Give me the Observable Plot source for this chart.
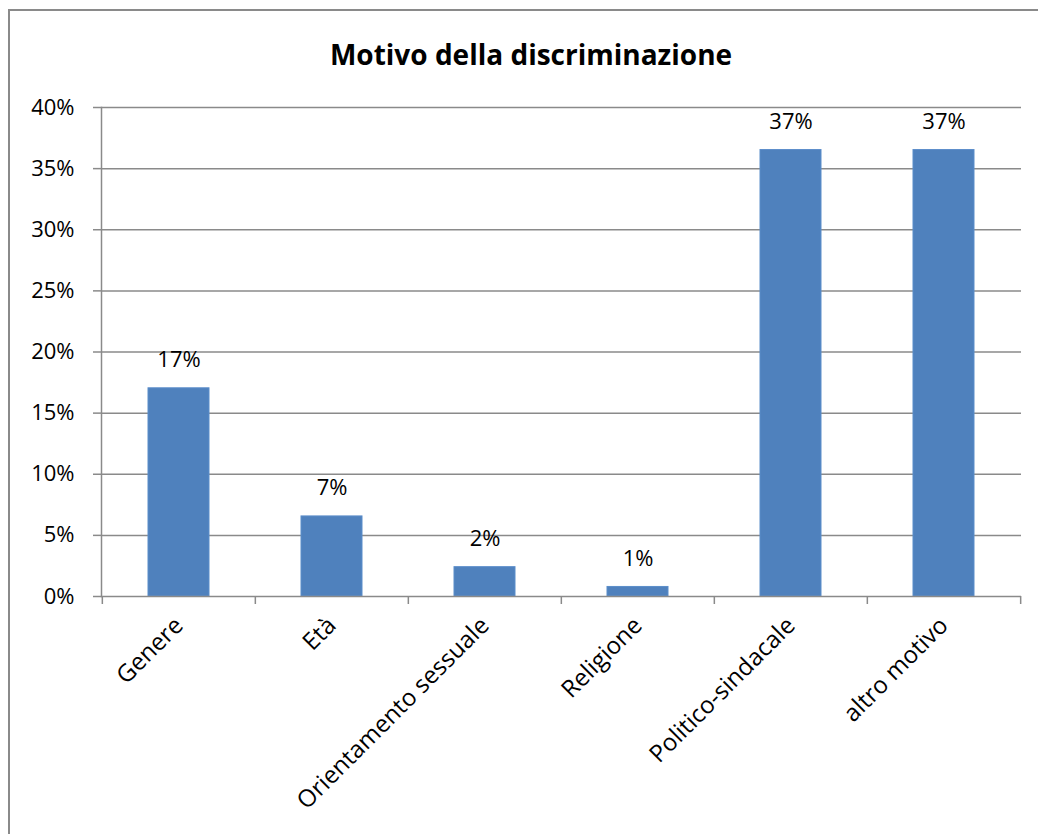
<!DOCTYPE html>
<html>
<head>
<meta charset="utf-8">
<script src="https://cdn.jsdelivr.net/npm/d3@7"></script>
<script src="https://cdn.jsdelivr.net/npm/@observablehq/plot@0.6"></script>
<style>
  html, body { margin: 0; padding: 0; background: #fff; }
  #wrap { position: relative; width: 1038px; height: 834px; overflow: hidden; }
  #border { position: absolute; left: 8px; top: 9px; width: 1100px; height: 900px;
            border-top: 2px solid #8a8a8a; border-left: 2px solid #8a8a8a; box-sizing: border-box; }
  #title { position: absolute; left: 531px; top: 40px; transform: translateX(-50%);
           font-family: "Open Sans", sans-serif; font-weight: 700; font-size: 28px;
           line-height: 28px; white-space: nowrap; color: #000; }
  #chart { position: absolute; left: 0; top: 0; }
</style>
</head>
<body>
<div id="wrap">
  <div id="border"></div>
  <div id="title">Motivo della discriminazione</div>
  <div id="chart"></div>
</div>
<script>
// Motivi di discriminazione e quota sul totale
const categories = ["Genere", "Età", "Orientamento sessuale", "Religione", "Politico-sindacale", "altro motivo"];
const shares = [0.1703, 0.0655, 0.0240, 0.0078, 0.3652, 0.3652];
const yTicks = [0, 0.05, 0.10, 0.15, 0.20, 0.25, 0.30, 0.35, 0.40];

const data = categories.map((c, i) => ({motivo: c, quota: shares[i]}));

const W = 1038, H = 834;
const mL = 101, mR = 17, mT = 107, mB = 238;
const step = (W - mL - mR) / categories.length;
const grey = "#8a8a8a";
const pct = d3.format(".0%");

const chart = Plot.plot({
  width: W,
  height: H,
  marginLeft: mL,
  marginRight: mR,
  marginTop: mT,
  marginBottom: mB,
  style: {fontFamily: "Open Sans, sans-serif", fontSize: "22px", color: "#000", background: "transparent"},
  x: {type: "band", domain: categories, paddingInner: 0.6, paddingOuter: 0.3, label: null},
  y: {domain: [0, 0.40], label: null},
  marks: [
    Plot.gridY(yTicks.slice(1), {stroke: grey, strokeOpacity: 1, strokeWidth: 1.5}),
    Plot.frame({anchor: "left", stroke: grey, strokeWidth: 1.5}),
    Plot.barY(data, {x: "motivo", y: "quota", fill: "#4f81bd", stroke: "#5b8dca", strokeWidth: 1}),
    Plot.ruleY([0], {stroke: grey, strokeWidth: 1.5}),
    Plot.axisY({ticks: yTicks, tickFormat: pct, tickSize: 8, tickPadding: 19, stroke: grey, strokeWidth: 1.5, fontSize: 22, label: null}),
    // tacche di separazione fra le categorie
    Plot.axisX({tickSize: 8, tickFormat: () => "", dx: -step / 2, stroke: grey, strokeWidth: 1.5, label: null}),
    Plot.axisX({ticks: [categories[categories.length - 1]], tickSize: 8, tickFormat: () => "", dx: step / 2, stroke: grey, strokeWidth: 1.5, label: null}),
    Plot.axisX({tickSize: 0, tickRotate: -45, tickPadding: 25, fontSize: 24, label: null}),
    Plot.text(data, {x: "motivo", y: "quota", text: d => pct(d.quota), lineAnchor: "bottom", dy: -21, fontSize: 22, fill: "#000"})
  ]
});

document.getElementById("chart").appendChild(chart);
</script>
</body>
</html>
